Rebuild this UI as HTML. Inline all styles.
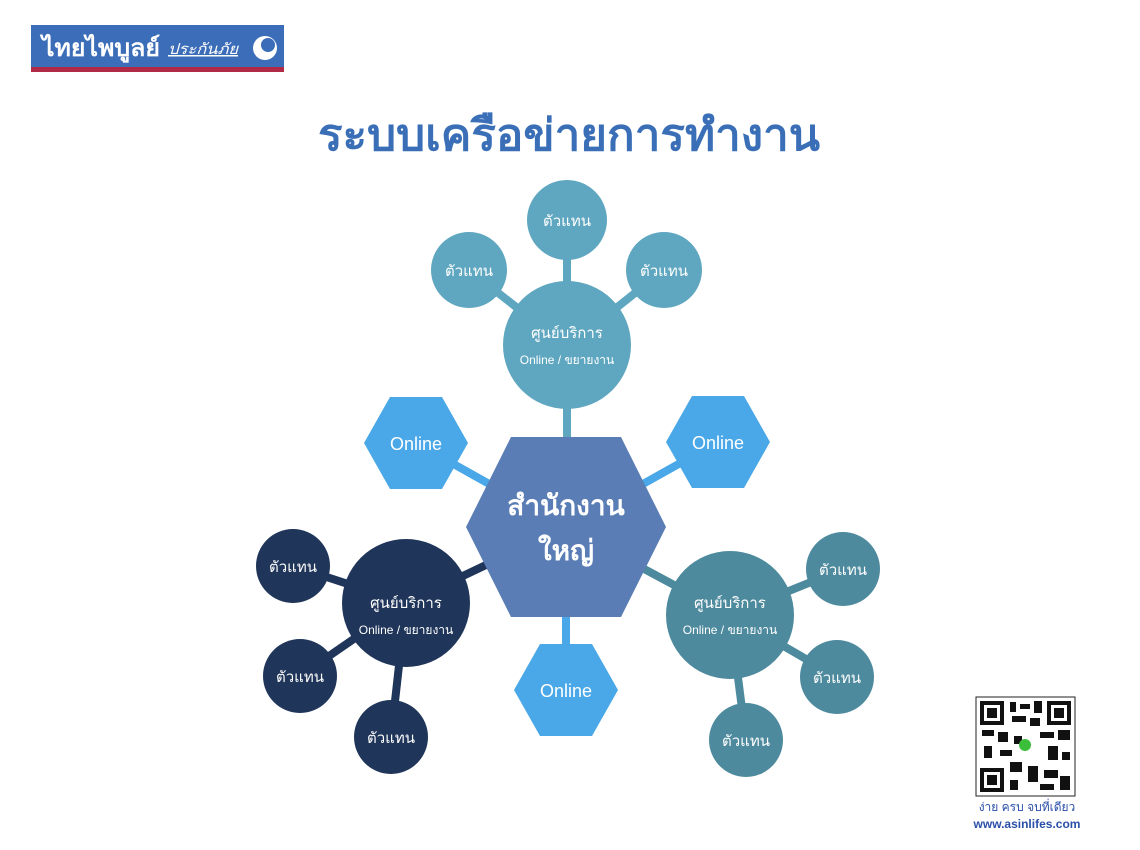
<!DOCTYPE html>
<html><head><meta charset="utf-8"><style>
html,body{margin:0;padding:0;background:#fff;width:1140px;height:850px;overflow:hidden}
svg text{font-family:"Liberation Sans","Noto Sans CJK SC",sans-serif}
</style></head><body>
<svg width="1140" height="850" viewBox="0 0 1140 850" xmlns="http://www.w3.org/2000/svg">
<rect width="1140" height="850" fill="#fff"/>
<!-- logo -->
<rect x="31" y="25" width="253" height="43" fill="#3c6db8"/>
<rect x="31" y="67" width="253" height="5" fill="#b02a45"/>
<text x="42" y="56" font-size="24" font-weight="bold" fill="#fff" textLength="118" lengthAdjust="spacingAndGlyphs">ไทยไพบูลย์</text>
<text x="168" y="54" font-size="15" font-style="italic" fill="#fff" text-decoration="underline" textLength="70" lengthAdjust="spacingAndGlyphs">ประกันภัย</text>
<circle cx="265" cy="48" r="12" fill="#fff"/>
<circle cx="268" cy="45" r="7" fill="#3c6db8"/>
<!-- title -->
<text x="318" y="150" font-size="44" font-weight="bold" fill="#3a6fb8" textLength="502" lengthAdjust="spacingAndGlyphs">ระบบเครือข่ายการทำงาน</text>
<!-- connectors -->
<g stroke-width="8" stroke-linecap="butt">
<line x1="567" y1="220" x2="567" y2="347" stroke="#5fa7c0"/>
<line x1="469" y1="270" x2="567" y2="347" stroke="#5fa7c0"/>
<line x1="664" y1="270" x2="567" y2="347" stroke="#5fa7c0"/>
<line x1="567" y1="347" x2="567" y2="527" stroke="#5fa7c0"/>
<line x1="416" y1="443" x2="566" y2="527" stroke="#4aa8e8"/>
<line x1="718" y1="442" x2="566" y2="527" stroke="#4aa8e8"/>
<line x1="566" y1="690" x2="566" y2="527" stroke="#4aa8e8"/>
<line x1="406" y1="603" x2="566" y2="527" stroke="#1f3559"/>
<line x1="293" y1="566" x2="406" y2="603" stroke="#1f3559"/>
<line x1="300" y1="676" x2="406" y2="603" stroke="#1f3559"/>
<line x1="391" y1="737" x2="406" y2="603" stroke="#1f3559"/>
<line x1="730" y1="615" x2="566" y2="527" stroke="#4e8a9e"/>
<line x1="843" y1="569" x2="730" y2="615" stroke="#4e8a9e"/>
<line x1="837" y1="677" x2="730" y2="615" stroke="#4e8a9e"/>
<line x1="746" y1="740" x2="730" y2="615" stroke="#4e8a9e"/>
</g>
<!-- top cluster -->
<circle cx="567" cy="220" r="40" fill="#5fa7c0"/>
<circle cx="469" cy="270" r="38" fill="#5fa7c0"/>
<circle cx="664" cy="270" r="38" fill="#5fa7c0"/>
<circle cx="567" cy="345" r="64" fill="#5fa7c0"/>
<g fill="#fff" text-anchor="middle" font-size="15">
<text x="567" y="226">ตัวแทน</text>
<text x="469" y="276">ตัวแทน</text>
<text x="664" y="276">ตัวแทน</text>
<text x="567" y="338" font-size="15">ศูนย์บริการ</text>
<text x="567" y="364" font-size="12">Online / ขยายงาน</text>
</g>
<!-- online hexes -->
<g fill="#4aa8e8">
<polygon points="364,443 390,397 442,397 468,443 442,489 390,489"/>
<polygon points="666,442 692,396 744,396 770,442 744,488 692,488"/>
<polygon points="514,690 540,644 592,644 618,690 592,736 540,736"/>
</g>
<g fill="#fff" text-anchor="middle" font-size="18">
<text x="416" y="450">Online</text>
<text x="718" y="449">Online</text>
<text x="566" y="697">Online</text>
</g>
<!-- central -->
<polygon points="466,527 511,437 621,437 666,527 621,617 511,617" fill="#5a7db5"/>
<g fill="#fff" text-anchor="middle" font-size="28" font-weight="bold">
<text x="566" y="515">สำนักงาน</text>
<text x="566" y="560">ใหญ่</text>
</g>
<!-- left cluster -->
<g fill="#1f3559">
<circle cx="406" cy="603" r="64"/>
<circle cx="293" cy="566" r="37"/>
<circle cx="300" cy="676" r="37"/>
<circle cx="391" cy="737" r="37"/>
</g>
<g fill="#fff" text-anchor="middle" font-size="15">
<text x="293" y="572">ตัวแทน</text>
<text x="300" y="682">ตัวแทน</text>
<text x="391" y="743">ตัวแทน</text>
<text x="406" y="608">ศูนย์บริการ</text>
<text x="406" y="634" font-size="12">Online / ขยายงาน</text>
</g>
<!-- right cluster -->
<g fill="#4e8a9e">
<circle cx="730" cy="615" r="64"/>
<circle cx="843" cy="569" r="37"/>
<circle cx="837" cy="677" r="37"/>
<circle cx="746" cy="740" r="37"/>
</g>
<g fill="#fff" text-anchor="middle" font-size="15">
<text x="843" y="575">ตัวแทน</text>
<text x="837" y="683">ตัวแทน</text>
<text x="746" y="746">ตัวแทน</text>
<text x="730" y="608">ศูนย์บริการ</text>
<text x="730" y="634" font-size="12">Online / ขยายงาน</text>
</g>
<!-- QR -->
<rect x="976" y="697" width="99" height="99" fill="#fff" stroke="#222" stroke-width="1"/>
<g fill="#111">
<rect x="980" y="701" width="24" height="24"/><rect x="984" y="705" width="16" height="16" fill="#fff"/><rect x="987" y="708" width="10" height="10"/>
<rect x="1047" y="701" width="24" height="24"/><rect x="1051" y="705" width="16" height="16" fill="#fff"/><rect x="1054" y="708" width="10" height="10"/>
<rect x="980" y="768" width="24" height="24"/><rect x="984" y="772" width="16" height="16" fill="#fff"/><rect x="987" y="775" width="10" height="10"/>
<rect x="1010" y="702" width="6" height="10"/><rect x="1020" y="704" width="10" height="5"/><rect x="1034" y="701" width="8" height="12"/>
<rect x="1012" y="716" width="14" height="6"/><rect x="1030" y="718" width="10" height="8"/><rect x="982" y="730" width="12" height="6"/>
<rect x="998" y="732" width="10" height="10"/><rect x="984" y="746" width="8" height="12"/><rect x="1000" y="750" width="12" height="6"/>
<rect x="1040" y="732" width="14" height="6"/><rect x="1058" y="730" width="12" height="10"/><rect x="1048" y="746" width="10" height="14"/>
<rect x="1062" y="752" width="8" height="8"/><rect x="1010" y="762" width="12" height="10"/><rect x="1028" y="766" width="10" height="16"/>
<rect x="1044" y="770" width="14" height="8"/><rect x="1060" y="776" width="10" height="14"/><rect x="1010" y="780" width="8" height="10"/>
<rect x="1040" y="784" width="14" height="6"/><rect x="1014" y="736" width="8" height="8"/>
</g>
<circle cx="1025" cy="745" r="6" fill="#3bbf3b"/>
<text x="1027" y="811" font-size="12" fill="#2a4fa8" text-anchor="middle">ง่าย ครบ จบที่เดียว</text>
<text x="1027" y="828" font-size="12" font-weight="bold" fill="#2a4fa8" text-anchor="middle">www.asinlifes.com</text>
</svg>
</body></html>
